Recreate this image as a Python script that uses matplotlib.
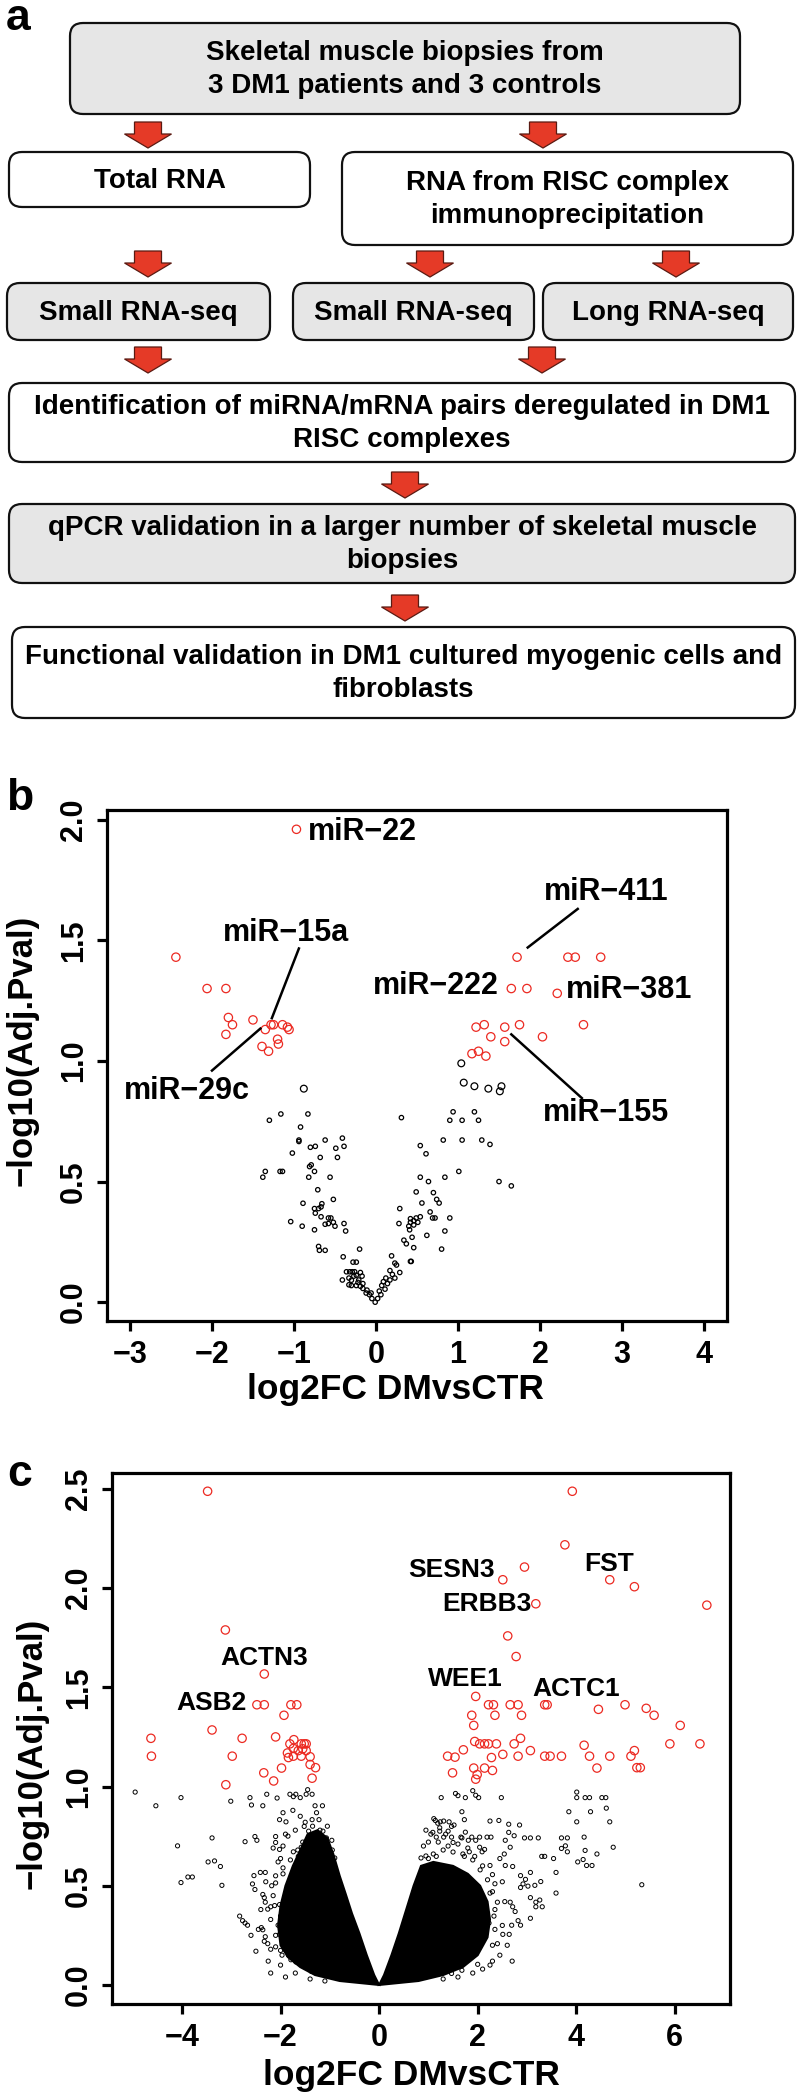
import matplotlib
matplotlib.use("Agg")
import matplotlib.pyplot as plt
from matplotlib.patches import FancyBboxPatch, Polygon
import numpy as np

plt.rcParams['font.family'] = ['Liberation Sans', 'DejaVu Sans']
plt.rcParams['font.weight'] = 'bold'

W, H = 800, 2098
RED = '#ec2a22'

# ---------------- panel a: flow chart ----------------
# (left, top, right, bottom, grey fill, text)
boxes = [
    (70, 23, 740, 114, True, "Skeletal muscle biopsies from\n3 DM1 patients and 3 controls"),
    (9, 152, 310, 207, False, "Total RNA"),
    (342, 152, 793, 245, False, "RNA from RISC complex\nimmunoprecipitation"),
    (7, 283, 270, 340, True, "Small RNA-seq"),
    (293, 283, 534, 340, True, "Small RNA-seq"),
    (543, 283, 793, 340, True, "Long RNA-seq"),
    (9, 383, 795, 462, False, "Identification of miRNA/mRNA pairs deregulated in DM1\nRISC complexes"),
    (9, 504, 795, 583, True, "qPCR validation in a larger number of skeletal muscle\nbiopsies"),
    (12, 627, 795, 718, False, "Functional validation in DM1 cultured myogenic cells and\nfibroblasts"),
]
# arrow centre x, arrow top y
arrows = [(148, 122), (543, 122), (148, 251), (430, 251), (676, 251),
          (148, 347), (542, 347), (405, 472), (405, 595)]

# ---------------- panel b: miRNA volcano ----------------
b_red_x = [-0.97, -2.44, -2.06, -1.83, -1.80, -1.75, -1.83, -1.50, -1.35, -1.28, -1.25,
           -1.14, -1.08, -1.06, -1.20, -1.19, -1.39, -1.31,
           1.72, 2.34, 2.43, 2.74, 1.65, 1.84, 2.21, 2.53, 1.22, 1.32, 1.57, 1.75,
           1.40, 2.03, 1.57, 1.17, 1.25, 1.34]
b_red_y = [1.96, 1.43, 1.30, 1.30, 1.18, 1.15, 1.11, 1.17, 1.13, 1.15, 1.15,
           1.15, 1.14, 1.13, 1.09, 1.07, 1.06, 1.04,
           1.43, 1.43, 1.43, 1.43, 1.30, 1.30, 1.28, 1.15, 1.14, 1.15, 1.14, 1.15,
           1.10, 1.10, 1.08, 1.03, 1.04, 1.02]

b_black_x = [1.04, 1.07, 1.20, 1.37, 1.51, 1.53, -0.88,
             -1.30, -1.16, -0.83, -0.92, -0.94, -0.94, -0.80, -0.74, -0.62, -0.41, -0.39,
             -0.49, -0.47, -0.68, -1.02, -1.35, -1.38, -1.17, -1.14, -0.81, -0.79, -0.75,
             -0.82, -0.56, -0.71, -0.52, -0.89, -0.66, -0.67, -0.75, -0.70, -0.74, -0.67,
             -0.58, -0.55, -0.52, -0.62, -0.58, -0.39, -1.04, -0.90, -0.75, -0.50, -0.37,
             -0.70, -0.62, -0.69, -0.20, -0.40, -0.28, -0.24, -0.36, -0.32, -0.29, -0.26,
             -0.24, -0.41, -0.33, -0.30, -0.27, -0.19, -0.17, -0.24, -0.19, -0.16, -0.12,
             -0.08, -0.05, -0.01, -0.21, -0.22, -0.16, -0.30, -0.33, -0.11, -0.06,
             0.31, 0.54, 0.61, 0.94, 0.90, 1.05, 1.20, 1.25, 0.82, 1.05, 1.29, 1.39,
             1.01, 1.50, 1.65, 0.54, 0.64, 0.84, 0.49, 0.56, 0.70, 0.74, 0.77, 0.29,
             0.54, 0.66, 0.69, 0.72, 0.90, 0.42, 0.42, 0.46, 0.49, 0.51, 0.40, 0.46,
             0.41, 0.28, 0.34, 0.37, 0.44, 0.46, 0.62, 0.84, 0.80, 0.19, 0.23, 0.25,
             0.42, 0.43, 0.29, 0.17, 0.20, 0.12, 0.17, 0.23, 0.09, 0.07, 0.04, 0.06,
             0.02, 0.11, 0.14]
b_black_y = [0.99, 0.91, 0.895, 0.885, 0.874, 0.895, 0.885,
             0.754, 0.78, 0.78, 0.726, 0.672, 0.666, 0.642, 0.646, 0.672, 0.68, 0.646,
             0.638, 0.60, 0.60, 0.618, 0.542, 0.518, 0.542, 0.542, 0.562, 0.569, 0.542,
             0.518, 0.518, 0.466, 0.426, 0.41, 0.408, 0.395, 0.388, 0.388, 0.369, 0.354,
             0.349, 0.349, 0.331, 0.323, 0.326, 0.326, 0.334, 0.315, 0.30, 0.315, 0.295,
             0.231, 0.215, 0.215, 0.22, 0.188, 0.166, 0.166, 0.126, 0.126, 0.126, 0.126,
             0.112, 0.092, 0.10, 0.091, 0.108, 0.123, 0.108, 0.069, 0.066, 0.057, 0.038,
             0.031, 0.015, 0.0, 0.092, 0.082, 0.077, 0.069, 0.072, 0.05, 0.038,
             0.765, 0.649, 0.615, 0.789, 0.754, 0.754, 0.789, 0.754, 0.672, 0.672, 0.672, 0.654,
             0.542, 0.50, 0.482, 0.518, 0.50, 0.518, 0.457, 0.411, 0.454, 0.426, 0.411, 0.388,
             0.354, 0.374, 0.349, 0.349, 0.349, 0.346, 0.331, 0.338, 0.349, 0.331, 0.315, 0.32,
             0.30, 0.326, 0.257, 0.242, 0.269, 0.226, 0.277, 0.295, 0.22, 0.192, 0.162, 0.154,
             0.169, 0.169, 0.123, 0.131, 0.115, 0.10, 0.092, 0.10, 0.085, 0.069, 0.046, 0.031,
             0.015, 0.054, 0.077]

# label, text x, text y, ha, line (x0, y0, x1, y1) or None
b_labels = [
    ("miR\u221222", -0.83, 1.95, 'left', None),
    ("miR\u221215a", -1.10, 1.53, 'center', (-0.94, 1.466, -1.27, 1.177)),
    ("miR\u221229c", -2.30, 0.877, 'center', (-2.00, 0.96, -1.41, 1.134)),
    ("miR\u2212411", 2.81, 1.70, 'center', (2.46, 1.63, 1.85, 1.47)),
    ("miR\u2212222", 0.73, 1.31, 'center', None),
    ("miR\u2212381", 3.08, 1.295, 'center', None),
    ("miR\u2212155", 2.81, 0.785, 'center', (1.65, 1.11, 2.51, 0.846)),
]

# ---------------- panel c: mRNA volcano ----------------
c_red_x = [-3.48, -3.12, -2.33, -2.48, -2.33, -1.79, -1.67, -1.93, -3.39, -4.63, -4.62,
           -2.78, -2.98, -2.10, -2.34, -1.98, -2.14, -3.11, -1.73, -1.81, -1.58, -1.52,
           -1.48, -1.86, -1.74, -1.64, -1.55, -1.48, -1.84, -1.74, -1.58, -1.40, -1.40,
           -1.29, -1.36,
           3.92, 3.77, 2.95, 2.51, 3.18, 4.68, 5.18, 6.65, 2.61, 2.78, 1.96, 2.22, 2.32,
           2.66, 2.82, 3.36, 3.41, 4.99, 4.45, 5.42, 5.58, 1.88, 2.35, 2.89, 1.92, 6.11,
           2.87, 1.94, 2.04, 2.14, 2.22, 2.38, 2.74, 4.16, 5.90, 6.51, 1.71, 3.07, 5.18,
           1.39, 1.54, 2.28, 2.51, 2.82, 3.36, 3.47, 3.70, 4.27, 4.68, 5.11, 1.49, 1.92,
           2.14, 2.30, 1.99, 1.96, 4.42, 5.23, 5.30]
c_red_y = [2.488, 1.789, 1.567, 1.412, 1.412, 1.412, 1.412, 1.359, 1.285, 1.243, 1.153,
           1.243, 1.153, 1.25, 1.069, 1.093, 1.028, 1.009, 1.236, 1.215, 1.215, 1.215,
           1.215, 1.169, 1.192, 1.181, 1.19, 1.181, 1.146, 1.153, 1.153, 1.15, 1.111,
           1.095, 1.042,
           2.488, 2.218, 2.106, 2.042, 1.921, 2.042, 2.007, 1.914, 1.759, 1.655, 1.454, 1.412, 1.412,
           1.412, 1.412, 1.412, 1.412, 1.412, 1.389, 1.394, 1.359, 1.359, 1.359, 1.359, 1.308, 1.308,
           1.243, 1.227, 1.215, 1.215, 1.215, 1.215, 1.215, 1.208, 1.215, 1.215, 1.185, 1.181, 1.181,
           1.153, 1.148, 1.146, 1.162, 1.153, 1.153, 1.153, 1.153, 1.153, 1.153, 1.153, 1.069, 1.093,
           1.093, 1.081, 1.06, 1.037, 1.093, 1.095, 1.095]

c_black_x = [-4.95, -4.53, -4.02, -4.09, -3.39, -3.47, -3.34, -4.02, -3.88, -3.79, -3.22,
             -3.19, -3.01, -2.62, -2.59, -2.36, -2.28, -2.07, -2.72, -2.52, -2.48, -2.10,
             -2.10, -2.15, -2.54, -2.41, -2.31, -2.10, -2.57, -2.52, -2.83, -2.77, -2.72,
             -2.67, -2.36, -2.31, -2.33, -2.26, -2.20, -2.39, -2.36, -2.33, -2.26, -2.05,
             -2.02, -2.00, -1.97, -1.89, -1.84, -0.96, -1.01, -1.38, -1.69, -1.79, -2.31,
             -2.10, -2.00, -2.02, -1.95, -2.00, -2.02, -2.02, -1.95, -1.89, -1.81, -1.74,
             -1.69, -1.60, -1.48, -1.36, -1.45, -1.30, -1.27, -1.15, -1.22, -1.14, -1.36,
             -1.52, -1.43, -1.07, -1.14, -0.96, -1.58, -1.48, -1.64, -1.74,
             -2.20, -2.15, -2.10, -2.05, -1.95, -1.85, -1.70, -1.55, -1.40, -1.25, -1.15,
             -0.95, -0.90, -1.65, -1.80, -1.95, -2.10, -2.20, -2.25, -2.00, -1.70, -1.40,
             -1.10, -2.12, -2.18, -1.60, -1.50, -1.35, -1.20, -1.05, -1.75, -1.90, -2.30,
             -2.40, -2.45, -2.60, -2.50, -2.20, -1.90,
             1.26, 1.55, 1.60, 1.75, 1.90, 1.96, 2.02, 2.48, 1.68, 1.73, 2.25, 2.43, 1.14,
             1.19, 1.23, 1.42, 1.47, 1.52, 1.16, 1.31, 1.47, 1.66, 1.88, 2.04, 2.19, 2.27,
             2.63, 2.85, 2.63, 2.56, 2.74, 2.95, 3.07, 3.23, 3.70, 3.82, 4.01, 4.01, 4.18,
             4.27, 4.52, 4.60, 3.85, 4.29, 4.61, 4.68, 4.01, 4.16, 3.78, 3.70, 3.82, 4.18,
             4.75, 4.42, 3.54, 3.30, 3.36, 4.03, 4.14, 4.21, 4.32, 3.59, 5.33, 3.59, 3.07,
             2.87, 2.97, 2.56, 2.71, 2.66, 2.54, 2.45, 2.87, 2.92, 3.02, 3.16, 3.28, 3.07,
             3.18, 3.26, 3.31, 3.18, 2.66, 2.71, 2.76, 2.82, 2.69, 2.64, 3.07, 2.87, 2.51,
             2.40, 2.30, 2.00, 1.68, 1.47, 1.11, 1.24, 1.31, 1.09, 1.23, 1.40, 1.50, 1.68,
             1.81, 1.96, 2.04, 2.09, 2.14, 1.94, 1.83, 1.73, 1.16, 1.00, 2.25, 2.30, 2.35,
             2.25, 2.40, 2.33, 2.23,
             2.30, 2.35, 2.35, 2.30, 2.20, 2.05, 1.90, 1.70, 1.50, 1.30, 1.10, 0.95, 0.85,
             0.90, 1.00, 1.20, 1.40, 1.60, 1.80, 2.10, 2.25, 2.10, 1.90, 1.60, 1.30, 2.45,
             2.50, 2.55, 2.50, 2.60, 2.70, 0.95, 1.05, 1.35, 1.75]
c_black_y = [0.972, 0.903, 0.944, 0.701, 0.741, 0.62, 0.625, 0.516, 0.544, 0.544, 0.597,
             0.502, 0.926, 0.944, 0.907, 0.903, 0.961, 0.942, 0.722, 0.748, 0.729, 0.748,
             0.718, 0.69, 0.551, 0.567, 0.567, 0.514, 0.509, 0.481, 0.347, 0.324, 0.312,
             0.301, 0.456, 0.417, 0.44, 0.382, 0.394, 0.289, 0.278, 0.22, 0.208, 0.301,
             0.255, 0.174, 0.15, 0.174, 0.15, 0.058, 0.046, 0.069, 0.116, 0.127, 0.243,
             0.192, 0.347, 0.405, 0.59, 0.637, 0.683, 0.833, 0.868, 0.822, 0.961, 0.949,
             0.961, 0.944, 0.961, 0.961, 0.984, 0.903, 0.868, 0.903, 0.833, 0.775, 0.833,
             0.799, 0.775, 0.741, 0.713, 0.729, 0.694, 0.671, 0.648, 0.671,
             0.33, 0.45, 0.55, 0.62, 0.70, 0.75, 0.78, 0.72, 0.74, 0.72, 0.66,
             0.68, 0.64, 0.68, 0.63, 0.56, 0.25, 0.18, 0.12, 0.10, 0.06, 0.03,
             0.02, 0.40, 0.50, 0.85, 0.82, 0.80, 0.78, 0.80, 0.88, 0.76, 0.52,
             0.38, 0.28, 0.25, 0.17, 0.06, 0.04,
             0.944, 0.965, 0.954, 0.944, 0.979, 0.956, 0.944, 0.944, 0.873, 0.833, 0.826, 0.829, 0.829,
             0.815, 0.792, 0.822, 0.799, 0.806, 0.745, 0.745, 0.745, 0.745, 0.745, 0.745, 0.745, 0.745,
             0.81, 0.806, 0.769, 0.729, 0.752, 0.741, 0.741, 0.741, 0.741, 0.741, 0.972, 0.944, 0.944,
             0.944, 0.944, 0.944, 0.873, 0.873, 0.891, 0.822, 0.822, 0.745, 0.701, 0.688, 0.671, 0.678,
             0.694, 0.66, 0.637, 0.648, 0.648, 0.62, 0.632, 0.602, 0.602, 0.567, 0.505, 0.463, 0.567,
             0.551, 0.532, 0.602, 0.597, 0.694, 0.66, 0.637, 0.491, 0.509, 0.498, 0.502, 0.521, 0.44,
             0.417, 0.428, 0.394, 0.394, 0.417, 0.394, 0.37, 0.324, 0.301, 0.255, 0.336, 0.301, 0.255,
             0.208, 0.12, 0.104, 0.074, 0.058, 0.838, 0.822, 0.826, 0.769, 0.775, 0.775, 0.718, 0.741,
             0.729, 0.729, 0.694, 0.671, 0.683, 0.648, 0.671, 0.648, 0.648, 0.637, 0.602, 0.556, 0.51,
             0.463, 0.417, 0.347, 0.312,
             0.20, 0.28, 0.38, 0.47, 0.53, 0.58, 0.63, 0.66, 0.67, 0.68, 0.66, 0.65, 0.64,
             0.70, 0.72, 0.72, 0.70, 0.71, 0.69, 0.60, 0.10, 0.08, 0.06, 0.04, 0.03, 0.15,
             0.30, 0.42, 0.52, 0.20, 0.12, 0.78, 0.76, 0.76, 0.77]

# outline of the solid, overplotted mass of non-significant genes
c_core_left_x = [0.0, -0.8, -1.3, -1.6, -1.85, -2.0, -2.05, -2.0, -1.9, -1.75, -1.6,
                 -1.45, -1.25, -1.05, -0.93, -0.8, -0.68, -0.55, -0.4, -0.25, -0.1]
c_core_left_y = [0.0, 0.02, 0.05, 0.09, 0.14, 0.2, 0.3, 0.4, 0.5, 0.6, 0.68,
                 0.76, 0.78, 0.74, 0.66, 0.55, 0.46, 0.36, 0.26, 0.15, 0.05]
c_core_right_x = [0.0, 0.8, 1.3, 1.7, 2.0, 2.2, 2.25, 2.2, 2.05, 1.8, 1.5,
                  1.1, 0.85, 0.7, 0.55, 0.4, 0.25, 0.1]
c_core_right_y = [0.0, 0.02, 0.05, 0.09, 0.15, 0.24, 0.33, 0.42, 0.5, 0.56, 0.6,
                  0.62, 0.6, 0.5, 0.38, 0.26, 0.15, 0.05]

c_labels = [
    ("SESN3", 1.47, 2.09), ("ERBB3", 2.19, 1.92), ("FST", 4.66, 2.12),
    ("ACTN3", -2.33, 1.65), ("ASB2", -3.40, 1.42), ("WEE1", 1.75, 1.54),
    ("ACTC1", 4.00, 1.49),
]

fig = plt.figure(figsize=(W / 100, H / 100), dpi=100)

# flow chart drawn in pixel units on a full-figure axes
axa = fig.add_axes([0, 0, 1, 1])
axa.set_xlim(0, W)
axa.set_ylim(H, 0)
axa.axis('off')
for x0, y0, x1, y1, grey, txt in boxes:
    axa.add_patch(FancyBboxPatch((x0, y0), x1 - x0, y1 - y0,
                                 boxstyle="round,pad=0,rounding_size=13",
                                 fc='#e6e6e6' if grey else 'white', ec='#111111', lw=1.6))
    axa.text((x0 + x1) / 2, (y0 + y1) / 2 + 1, txt, ha='center', va='center',
             fontsize=20, fontweight='bold', linespacing=1.35)
for cx, ty in arrows:
    pts = [(cx - 13.5, ty), (cx + 13.5, ty), (cx + 13.5, ty + 12), (cx + 23.5, ty + 12),
           (cx, ty + 26), (cx - 23.5, ty + 12), (cx - 13.5, ty + 12)]
    axa.add_patch(Polygon(pts, closed=True, fc='#e53a27', ec='#5a1a12', lw=0.9))

fig.text(18 / W, 1 - 18 / H, "a", fontsize=32, fontweight='bold', ha='center', va='center')
fig.text(20 / W, 1 - 798 / H, "b", fontsize=32, fontweight='bold', ha='center', va='center')
fig.text(20 / W, 1 - 1474 / H, "c", fontsize=32, fontweight='bold', ha='center', va='center')


def style_axes(ax, xt, yt):
    for sp in ax.spines.values():
        sp.set_linewidth(2.3)
    ax.set_xticks(xt)
    ax.set_xticklabels([str(v).replace('-', '\u2212') for v in xt], fontsize=22, fontweight='bold')
    ax.set_yticks(yt)
    ax.set_yticklabels(['%.1f' % v for v in yt], fontsize=22, fontweight='bold',
                       rotation=90, va='center')
    ax.tick_params(axis='both', length=7, width=2.3)
    ax.tick_params(axis='x', pad=7)
    ax.tick_params(axis='y', pad=6)


# panel b
axb = fig.add_axes([107 / W, 1 - 1321 / H, 620 / W, 511 / H])
bx = np.array(b_black_x)
by = np.array(b_black_y)
axb.scatter(bx, by, s=np.where(by > 0.85, 24, 10), facecolors='none', edgecolors='black', linewidths=0.9)
axb.scatter(b_red_x, b_red_y, s=36, facecolors='none', edgecolors=RED, linewidths=0.9)
axb.set_xlim(-3.28, 4.28)
axb.set_ylim(-0.078, 2.04)
style_axes(axb, list(range(-3, 5)), [0.0, 0.5, 1.0, 1.5, 2.0])
for txt, tx, ty, ha, seg in b_labels:
    axb.text(tx, ty, txt, fontsize=22, fontweight='bold', ha=ha, va='center')
    if seg is not None:
        axb.plot([seg[0], seg[2]], [seg[1], seg[3]], color='black', lw=1.8)
fig.text(395 / W, 1 - 1390 / H, "log2FC DMvsCTR", fontsize=25.5, fontweight='bold', ha='center', va='center')
fig.text(22 / W, 1 - 1050 / H, "\u2212log10(Adj.Pval)", fontsize=25, fontweight='bold',
         ha='center', va='center', rotation=90)

# panel c
axc = fig.add_axes([112 / W, 1 - 2004 / H, 618 / W, 531 / H])
axc.fill(c_core_left_x, c_core_left_y, color='black', lw=1.5, zorder=1)
axc.fill(c_core_right_x, c_core_right_y, color='black', lw=1.5, zorder=1)
axc.scatter(c_black_x, c_black_y, s=9, facecolors='none', edgecolors='black', linewidths=0.7, zorder=2)
axc.scatter(c_red_x, c_red_y, s=36, facecolors='none', edgecolors=RED, linewidths=0.9, zorder=3)
axc.set_xlim(-5.42, 7.12)
axc.set_ylim(-0.096, 2.58)
style_axes(axc, [-4, -2, 0, 2, 4, 6], [0.0, 0.5, 1.0, 1.5, 2.0, 2.5])
for txt, tx, ty in c_labels:
    axc.text(tx, ty, txt, fontsize=19, fontweight='bold', ha='center', va='center', zorder=4)
fig.text(411 / W, 1 - 2075 / H, "log2FC DMvsCTR", fontsize=25.5, fontweight='bold', ha='center', va='center')
fig.text(32 / W, 1 - 1753 / H, "\u2212log10(Adj.Pval)", fontsize=25, fontweight='bold',
         ha='center', va='center', rotation=90)

fig.savefig("out.png", dpi=100)
